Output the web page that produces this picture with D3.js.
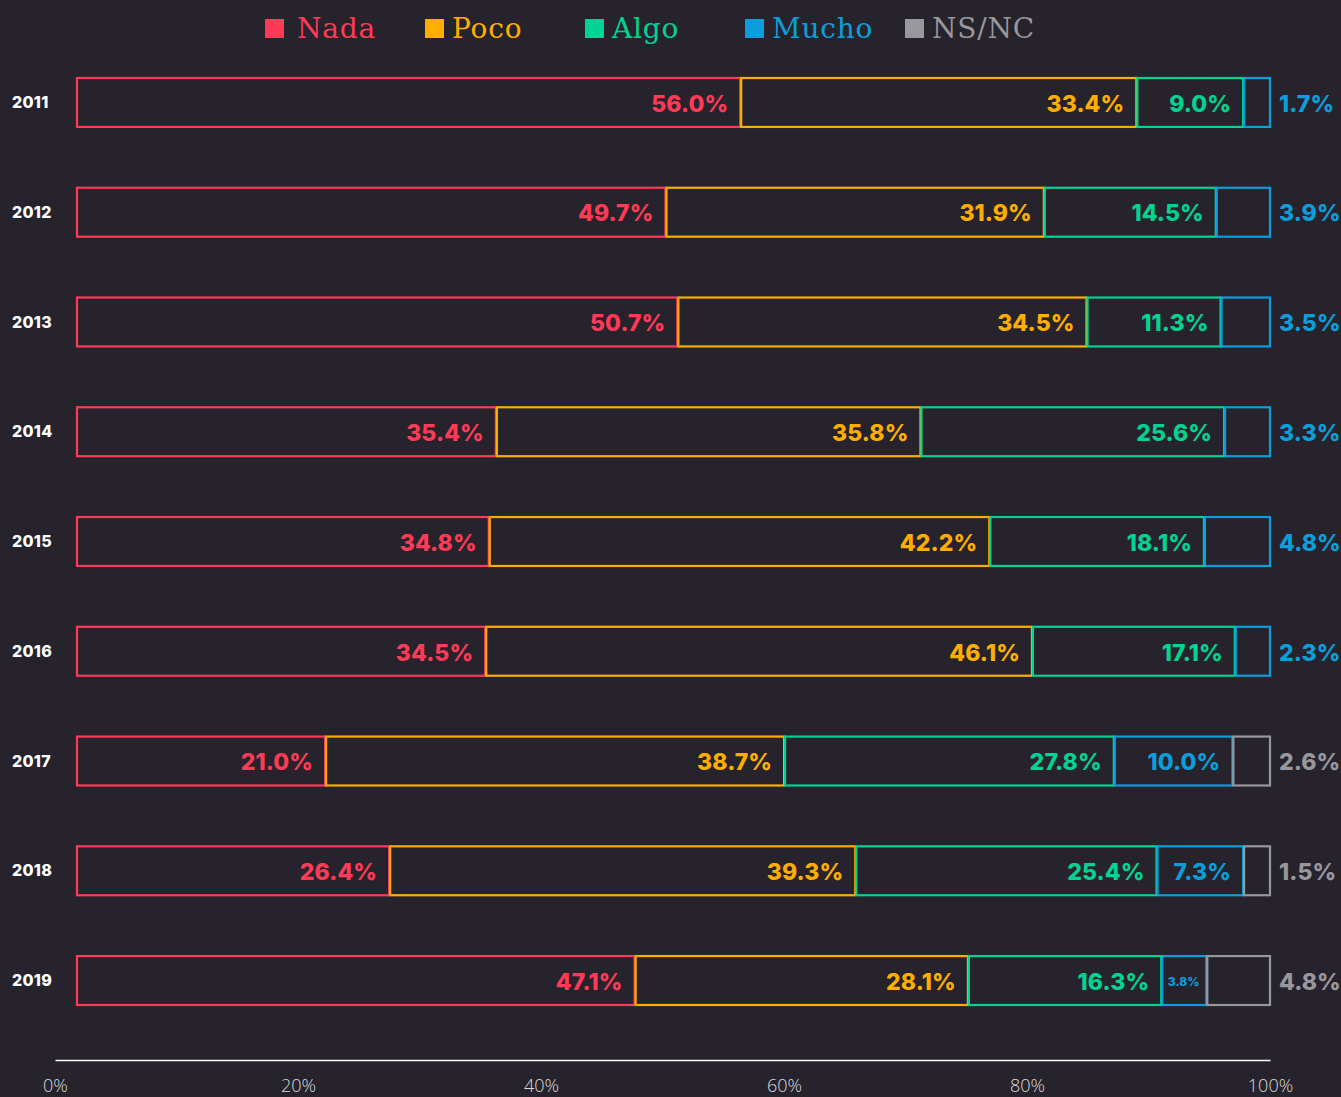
<!DOCTYPE html>
<html lang="es">
  <head>
    <meta charset="UTF-8" />
    <title>Encuesta 2011-2019</title>
    <script src="https://d3js.org/d3.v7.min.js"></script>
    <style>
      body { margin: 0; background: #26232c; }
    </style>
  </head>
  <body>
    <div id="chart"></div>
    <script>
      // data
      const years = ['2011', '2012', '2013', '2014', '2015', '2016', '2017', '2018', '2019']
      const nada = [56.0, 49.7, 50.7, 35.4, 34.8, 34.5, 21.0, 26.4, 47.1]
      const poco = [33.4, 31.9, 34.5, 35.8, 42.2, 46.1, 38.7, 39.3, 28.1]
      const algo = [9.0, 14.5, 11.3, 25.6, 18.1, 17.1, 27.8, 25.4, 16.3]
      const mucho = [1.7, 3.9, 3.5, 3.3, 4.8, 2.3, 10.0, 7.3, 3.8]
      const nsnc = [null, null, null, null, null, null, 2.6, 1.5, 4.8]
      const categories = ['Nada', 'Poco', 'Algo', 'Mucho', 'NS/NC']
      const axisTicks = [0, 20, 40, 60, 80, 100]

      const colors = ['#ff3a57', '#ffae00', '#00d492', '#0a9fdc', '#98979c']
      const bg = '#26232c'
      const series = [nada, poco, algo, mucho, nsnc]

      const width = 1341, height = 1097

      const svg = d3
        .select('#chart')
        .append('svg')
        .attr('width', width)
        .attr('height', height)

      svg.append('rect').attr('width', width).attr('height', height).attr('fill', bg)

      // rows: stack each year, last segment runs to the end of the bar
      const rows = years.map((y, i) => {
        let acc = 0
        const segs = []
        series.forEach((s, k) => {
          const v = s[i]
          if (v == null) return
          segs.push({ k, v, x0: acc, x1: acc + v })
          acc += v
        })
        segs[segs.length - 1].last = true
        return { year: y, segs }
      })

      const x = d3.scaleLinear().domain([0, 100.67]).range([76, 1270])
      const y = d3.scaleBand().domain(years).range([77, 1006]).paddingInner(0.536).paddingOuter(0)
      const xAxisScale = d3.scaleLinear().domain([0, 100]).range([55, 1270])
      const barEnd = x.range()[1]
      const x1Of = d => (d.last ? barEnd : x(d.x1))

      const labelFont = 'Inter, "Open Sans", sans-serif'

      const row = svg
        .selectAll('g.row')
        .data(rows)
        .join('g')
        .attr('class', 'row')
        .attr('transform', d => `translate(0, ${y(d.year)})`)

      row
        .append('text')
        .attr('x', 12)
        .attr('y', y.bandwidth() / 2)
        .attr('dy', '0.35em')
        .attr('fill', '#ffffff')
        .attr('font-family', labelFont)
        .attr('font-weight', 800)
        .attr('font-size', 16)
        .attr('letter-spacing', 0.3)
        .text(d => d.year)

      const seg = row
        .selectAll('g.seg')
        .data(d => d.segs)
        .join('g')
        .attr('class', 'seg')

      seg
        .append('rect')
        .attr('x', d => x(d.x0) + 1)
        .attr('y', 1)
        .attr('width', d => x1Of(d) - x(d.x0) - 1)
        .attr('height', y.bandwidth() - 2)
        .attr('fill', bg)
        .attr('stroke', d => colors[d.k])
        .attr('stroke-width', 2.2)

      const small = d => !d.last && d.v < 5

      seg
        .append('text')
        .attr('x', d => {
          if (d.last) return barEnd + 9
          if (small(d)) return (x(d.x0) + x1Of(d)) / 2
          return x1Of(d) - 12
        })
        .attr('y', y.bandwidth() / 2 + 1)
        .attr('dy', '0.36em')
        .attr('text-anchor', d => (d.last ? 'start' : small(d) ? 'middle' : 'end'))
        .attr('fill', d => colors[d.k])
        .attr('font-family', labelFont)
        .attr('font-weight', 800)
        .attr('font-size', d => (small(d) ? 12 : 23))
        .attr('letter-spacing', d => (small(d) ? 0 : 0.1))
        .text(d => d.v.toFixed(1) + '%')

      // legend
      const lx = d3.scalePoint().domain(categories).range([265, 905])
      const item = svg
        .append('g')
        .selectAll('g')
        .data(categories)
        .join('g')
        .attr('transform', d => `translate(${lx(d)}, 0)`)
      item
        .append('rect')
        .attr('y', 19)
        .attr('width', 19)
        .attr('height', 19)
        .attr('fill', (d, i) => colors[i])
      item
        .append('text')
        .attr('x', (d, i) => (i === 0 ? 32 : 27))
        .attr('y', 38)
        .attr('fill', (d, i) => colors[i])
        .attr('font-family', '"DejaVu Serif", serif')
        .attr('font-size', 28)
        .attr('letter-spacing', 0.8)
        .text(d => d)

      // bottom axis
      const axis = svg
        .append('g')
        .attr('transform', 'translate(0, 1060)')
        .call(
          d3
            .axisBottom(xAxisScale)
            .tickValues(axisTicks)
            .tickSize(0)
            .tickPadding(19)
            .tickFormat(d => d + '%')
        )
      axis.select('.domain').attr('stroke', '#ffffff').attr('stroke-width', 1.5)
      axis
        .selectAll('.tick text')
        .attr('fill', '#dcdbde')
        .attr('font-family', '"Open Sans", sans-serif')
        .attr('font-weight', 300)
        .attr('font-size', 18)
    </script>
  </body>
</html>
